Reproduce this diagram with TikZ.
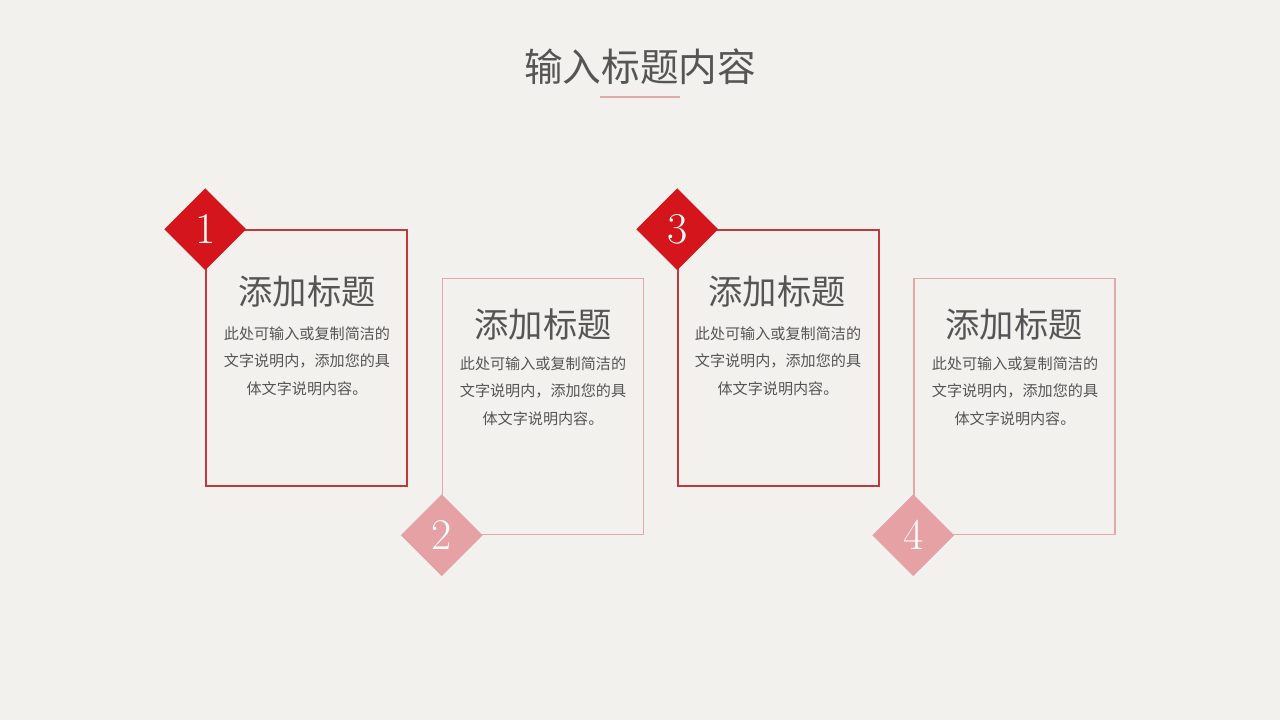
\documentclass[tikz,border=0pt]{standalone}
\usepackage{fontspec}
\newfontfamily\cjk{Noto Sans CJK SC}
\usetikzlibrary{shapes.geometric}

\definecolor{bgcol}{HTML}{F3F1EE}
\definecolor{darkred}{HTML}{D4161C}
\definecolor{redline}{HTML}{C2393D}
\definecolor{pinkfill}{HTML}{E6A1A4}
\definecolor{pinkline}{HTML}{E2A9AB}
\definecolor{txtgray}{HTML}{555555}

\tikzset{
  cardbox/.style={draw, line width=0.9pt, minimum width=4.02cm, minimum height=5.12cm, inner sep=0},
  numbox/.style={diamond, inner sep=0, minimum width=1.64cm, minimum height=1.64cm, text=white, font=\fontsize{25pt}{25pt}\selectfont},
  cardtitle/.style={text=txtgray, font=\cjk\fontsize{19.5pt}{22pt}\selectfont},
  cardtext/.style={text=txtgray, align=center, font=\cjk\fontsize{8.6pt}{15.6pt}\selectfont}
}

\begin{document}
\begin{tikzpicture}[x=0.02cm, y=-0.02cm]
    \fill[bgcol] (0,0) rectangle (1280,720);
    \useasboundingbox (0,0) rectangle (1280,720);

    % heading
    \node[text=txtgray, font=\cjk\fontsize{22pt}{24pt}\selectfont] (head) at (640,67) {输入标题内容};
    \coordinate (ul1) at (600,97);
    \coordinate (ul2) at (680,97);
    \draw[pinkline, line width=0.8pt] (ul1) -- (ul2);

    % cards
    \node[cardbox, draw=redline] (box1) at (306.5,358) {};
    \node[cardbox, draw=pinkline] (box2) at (543,406.5) {};
    \node[cardbox, draw=redline] (box3) at (778.5,358) {};
    \node[cardbox, draw=pinkline] (box4) at (1014.5,406.5) {};

    \node[numbox, fill=darkred] (n1) at (box1.north west) {1};
    \node[numbox, fill=pinkfill] (n2) at (box2.south west) {2};
    \node[numbox, fill=darkred] (n3) at (box3.north west) {3};
    \node[numbox, fill=pinkfill] (n4) at (box4.south west) {4};

    \node[cardtitle] (t1) at (307,291) {添加标题};
    \node[cardtext] (d1) at (307,361) {此处可输入或复制简洁的\\文字说明内，添加您的具\\体文字说明内容。};

    \node[cardtitle] (t2) at (543,324) {添加标题};
    \node[cardtext] (d2) at (543,391) {此处可输入或复制简洁的\\文字说明内，添加您的具\\体文字说明内容。};

    \node[cardtitle] (t3) at (777,291) {添加标题};
    \node[cardtext] (d3) at (778,361) {此处可输入或复制简洁的\\文字说明内，添加您的具\\体文字说明内容。};

    \node[cardtitle] (t4) at (1014,324) {添加标题};
    \node[cardtext] (d4) at (1015,391) {此处可输入或复制简洁的\\文字说明内，添加您的具\\体文字说明内容。};
\end{tikzpicture}
\end{document}
